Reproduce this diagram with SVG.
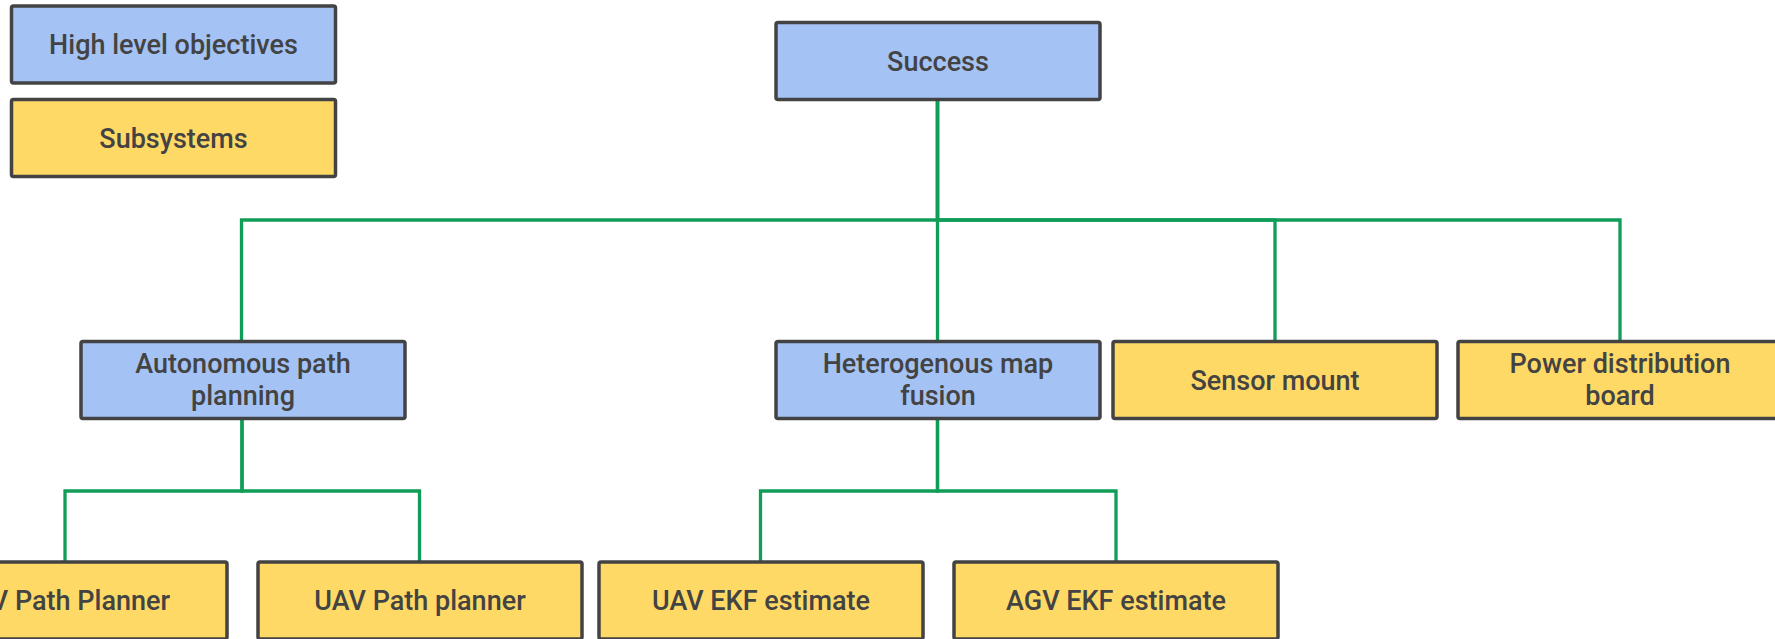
<svg xmlns="http://www.w3.org/2000/svg" width="1775" height="639" viewBox="0 0 1775 639">
<style>
.box{stroke:#434343;stroke-width:3.5;}
.blue{fill:#a4c2f4;}
.yellow{fill:#ffd966;}
.lbl{font-family:Roboto,"Liberation Sans",sans-serif;font-weight:500;font-size:27px;fill:#434343;text-anchor:middle;}
.conn{fill:none;stroke:#0f9d58;stroke-width:3.3;}
</style>
<rect width="1775" height="639" fill="#ffffff"/>
<g id="connectors">
<path class="conn" d="M937.5 100 V220 H241.5 V341"/>
<path class="conn" d="M937.5 100 V220 V341"/>
<path class="conn" d="M937.5 100 V220 H1275 V341"/>
<path class="conn" d="M937.5 100 V220 H1620 V341"/>
<path class="conn" d="M242 419 V491 H65 V562"/>
<path class="conn" d="M242 419 V491 H419.5 V562"/>
<path class="conn" d="M937.5 419 V491 H760.5 V562"/>
<path class="conn" d="M937.5 419 V491 H1116 V562"/>
</g>
<g id="legend-high">
<rect class="box blue" x="11.5" y="6" width="324" height="77" rx="2"/>
<text class="lbl" x="173.5" y="54">High level objectives</text>
</g>
<g id="legend-sub">
<rect class="box yellow" x="11.5" y="99.5" width="324" height="77" rx="2"/>
<text class="lbl" x="173.5" y="147.5">Subsystems</text>
</g>
<g id="success">
<rect class="box blue" x="776" y="22.5" width="324" height="77" rx="2"/>
<text class="lbl" x="938" y="70.5">Success</text>
</g>
<g id="autonomous">
<rect class="box blue" x="81" y="341.5" width="324" height="77" rx="2"/>
<text class="lbl" x="243" y="373">Autonomous path</text>
<text class="lbl" x="243" y="405">planning</text>
</g>
<g id="heterogenous">
<rect class="box blue" x="776" y="341.5" width="324" height="77" rx="2"/>
<text class="lbl" x="938" y="373">Heterogenous map</text>
<text class="lbl" x="938" y="405">fusion</text>
</g>
<g id="sensor">
<rect class="box yellow" x="1113" y="341.5" width="324" height="77" rx="2"/>
<text class="lbl" x="1275" y="389.5">Sensor mount</text>
</g>
<g id="power">
<rect class="box yellow" x="1458" y="341.5" width="324" height="77" rx="2"/>
<text class="lbl" x="1620" y="373">Power distribution</text>
<text class="lbl" x="1620" y="405">board</text>
</g>
<g id="path-planner-left">
<rect class="box yellow" x="-97" y="562" width="324" height="77" rx="2"/>
<text class="lbl" x="170" y="610" style="text-anchor:end">V Path Planner</text>
</g>
<g id="uav-path">
<rect class="box yellow" x="258" y="562" width="324" height="77" rx="2"/>
<text class="lbl" x="420" y="610">UAV Path planner</text>
</g>
<g id="uav-ekf">
<rect class="box yellow" x="599" y="562" width="324" height="77" rx="2"/>
<text class="lbl" x="761" y="610">UAV EKF estimate</text>
</g>
<g id="agv-ekf">
<rect class="box yellow" x="954" y="562" width="324" height="77" rx="2"/>
<text class="lbl" x="1116" y="610">AGV EKF estimate</text>
</g>
</svg>
